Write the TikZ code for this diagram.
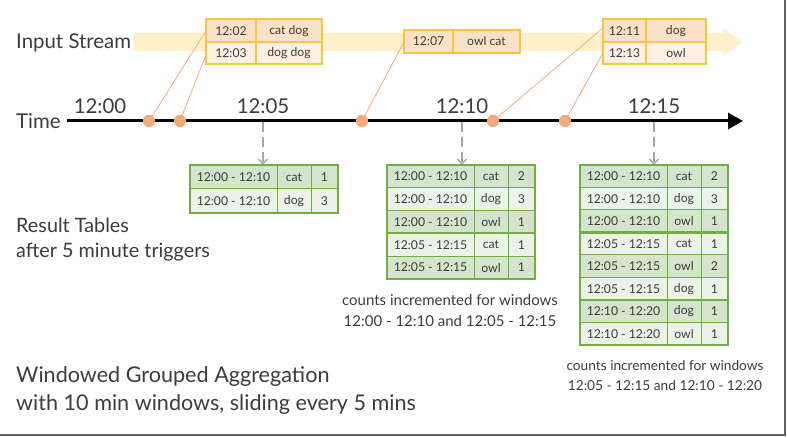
\documentclass[tikz,border=0pt]{standalone}
\usepackage{fontspec}
\setmainfont{Lato}
\usetikzlibrary{arrows.meta}
\definecolor{txt}{HTML}{3C3C3C}
\definecolor{stream}{HTML}{FFF0C9}
\definecolor{gold}{HTML}{F8C543}
\definecolor{peach}{HTML}{FBE2C6}
\definecolor{peachl}{HTML}{FEF1E4}
\definecolor{dotc}{HTML}{F2AB7C}
\definecolor{tgreen}{HTML}{72AE48}
\definecolor{gdark}{HTML}{D5E4CC}
\definecolor{glight}{HTML}{EBF2E7}
\tikzset{
  big/.style={text=txt,font=\fontsize{20.4}{22}\selectfont,inner sep=0pt},
  huge/.style={text=txt,font=\fontsize{21.6}{24}\selectfont,inner sep=0pt,anchor=west},
  mid/.style={text=txt,font=\fontsize{19.8}{22}\selectfont,inner sep=0pt,anchor=west},
  cell/.style={text=txt,font=\fontsize{12.2}{14}\selectfont,inner sep=0pt},
  note/.style={text=txt,font=\fontsize{15}{21}\selectfont,inner sep=0pt,align=center},
  notesm/.style={text=txt,font=\fontsize{13.7}{20}\selectfont,inner sep=0pt,align=center},
  evdot/.style={circle,fill=dotc,minimum size=12pt,inner sep=0pt},
  link/.style={draw=dotc,line width=0.8pt},
  trig/.style={draw=gray!70,line width=1.4pt,dash pattern=on 10pt off 5pt,-{Straight Barb[length=5pt,width=9pt]}},
  inbox/.style={draw=gold,line width=1.4pt},
}
\newcommand{\tabrows}[4]{% x0, y0, row height, list fill/range/word/count
  \foreach \f/\r/\w/\n [count=\i from 0] in {#4}{
    \fill[\f] (#1,#2+\i*#3) rectangle +(148,#3);
    \node[cell] (#1r\i a) at (#1+43.5,#2+\i*#3+#3/2) {\r};
    \node[cell] (#1r\i b) at (#1+104,#2+\i*#3+#3/2) {\w};
    \node[cell] (#1r\i c) at (#1+134.5,#2+\i*#3+#3/2) {\n};
  }
}
\begin{document}
\begin{tikzpicture}[x=1pt,y=-1pt]
\useasboundingbox (0,0) rectangle (787,438);
\fill[white] (0,0) rectangle (787,438);
% frame
\draw[gray!75!black,line width=2pt] (785,0) -- (785,435) -- (0,435);

% input stream band
\fill[stream] (134,33) -- (723,33) -- (723,28) -- (742,42) -- (723,56) -- (723,51) -- (134,51) -- cycle;
\node[big,anchor=west] (inlabel) at (16,43) {Input Stream};

% box 1
\fill[peach] (206,19) rectangle (322,42);
\fill[peachl] (206,42) rectangle (322,64);
\draw[inbox] (206,19) rectangle (322,64) (256,19) -- (256,64) (206,42) -- (322,42);
\node[cell] (b1a) at (231,31) {12:02};
\node[cell] (b1b) at (289,31) {cat dog};
\node[cell] (b1c) at (231,53) {12:03};
\node[cell] (b1d) at (289,53) {dog dog};
% box 2
\fill[peach] (404,30) rectangle (520,53);
\draw[inbox] (404,30) rectangle (520,53) (453,30) -- (453,53);
\node[cell] (b2a) at (428.5,41.5) {12:07};
\node[cell] (b2b) at (486.5,41.5) {owl cat};
% box 3
\fill[peach] (603,19) rectangle (706,42);
\fill[peachl] (603,42) rectangle (706,64);
\draw[inbox] (603,19) rectangle (706,64) (646,19) -- (646,64) (603,42) -- (706,42);
\node[cell] (b3a) at (624.5,31) {12:11};
\node[cell] (b3b) at (676,31) {dog};
\node[cell] (b3c) at (624.5,53) {12:13};
\node[cell] (b3d) at (676,53) {owl};

% time axis
\node[big,anchor=west] (timelabel) at (16,121) {Time};
\coordinate (ax0) at (67,121);
\coordinate (ax1) at (743,121);
\draw[line width=3pt,-{Triangle[length=15pt,width=16pt]}] (ax0) -- (ax1);
\node[big] (t0) at (100,106) {12:00};
\node[big] (t5) at (263,106) {12:05};
\node[big] (t10) at (462,106) {12:10};
\node[big] (t15) at (654,106) {12:15};

% trigger arrows
\coordinate (k1) at (263,122.5);
\coordinate (k2) at (462,122.5);
\coordinate (k3) at (654,122.5);
\coordinate (g1) at (263,165);
\coordinate (g2) at (462,165);
\coordinate (g3) at (654,165);
\draw[trig] (k1) -- (g1);
\draw[trig] (k2) -- (g2);
\draw[trig] (k3) -- (g3);

% event dots and links
\coordinate (e1) at (206,31);
\coordinate (e2) at (206,55);
\coordinate (e3) at (404,42);
\coordinate (e4) at (603,28);
\coordinate (e5) at (603,53);
\node[evdot] (d1) at (149,121) {};
\node[evdot] (d2) at (180,121) {};
\node[evdot] (d3) at (362,121) {};
\node[evdot] (d4) at (493,121) {};
\node[evdot] (d5) at (565,121) {};
\draw[link] (d1.center) -- (e1);
\draw[link] (d2.center) -- (e2);
\draw[link] (d3.center) -- (e3);
\draw[link] (d4.center) -- (e4);
\draw[link] (d5.center) -- (e5);
\node[evdot] at (149,121) {};
\node[evdot] at (180,121) {};
\node[evdot] at (362,121) {};
\node[evdot] at (493,121) {};
\node[evdot] at (565,121) {};

% table 1
\tabrows{190}{165}{24}{gdark/12:00 - 12:10/cat/1, glight/12:00 - 12:10/dog/3}
\draw[tgreen,line width=1pt] (277,165) -- (277,213) (311,165) -- (311,213) (190,189) -- (338,189);
\draw[tgreen,line width=2.2pt] (190,165) rectangle (338,213);

% table 2
\tabrows{387}{165}{22.8}{gdark/12:00 - 12:10/cat/2, glight/12:00 - 12:10/dog/3, gdark/12:00 - 12:10/owl/1, glight/12:05 - 12:15/cat/1, gdark/12:05 - 12:15/owl/1}
\draw[tgreen,line width=1pt] (474,165) -- (474,279) (508,165) -- (508,279)
  (387,187.8) -- (535,187.8) (387,210.6) -- (535,210.6) (387,256.2) -- (535,256.2);
\draw[tgreen,line width=2.2pt] (387,233.4) -- (535,233.4);
\draw[tgreen,line width=2.2pt] (387,165) rectangle (535,279);

% table 3
\tabrows{580}{165}{22.5}{gdark/12:00 - 12:10/cat/2, glight/12:00 - 12:10/dog/3, gdark/12:00 - 12:10/owl/1, glight/12:05 - 12:15/cat/1, gdark/12:05 - 12:15/owl/2, glight/12:05 - 12:15/dog/1, gdark/12:10 - 12:20/dog/1, glight/12:10 - 12:20/owl/1}
\draw[tgreen,line width=1pt] (667,165) -- (667,345) (701,165) -- (701,345)
  (580,187.5) -- (728,187.5) (580,210) -- (728,210) (580,255) -- (728,255)
  (580,277.5) -- (728,277.5) (580,322.5) -- (728,322.5);
\draw[tgreen,line width=2.2pt] (580,232.5) -- (728,232.5) (580,300) -- (728,300);
\draw[tgreen,line width=2.2pt] (580,165) rectangle (728,345);

% notes
\node[note] (n1) at (450,311) {counts incremented for windows\\12:00 - 12:10 and 12:05 - 12:15};
\node[notesm] (n2) at (665,376) {counts incremented for windows\\12:05 - 12:15 and 12:10 - 12:20};

% left texts
\node[mid] (rt1) at (16,225) {Result Tables};
\node[mid] (rt2) at (16,252) {after 5 minute triggers};
\node[huge] (w1) at (16,377) {Windowed Grouped Aggregation};
\node[huge] (w2) at (16,405) {with 10 min windows, sliding every 5 mins};
\end{tikzpicture}
\end{document}
